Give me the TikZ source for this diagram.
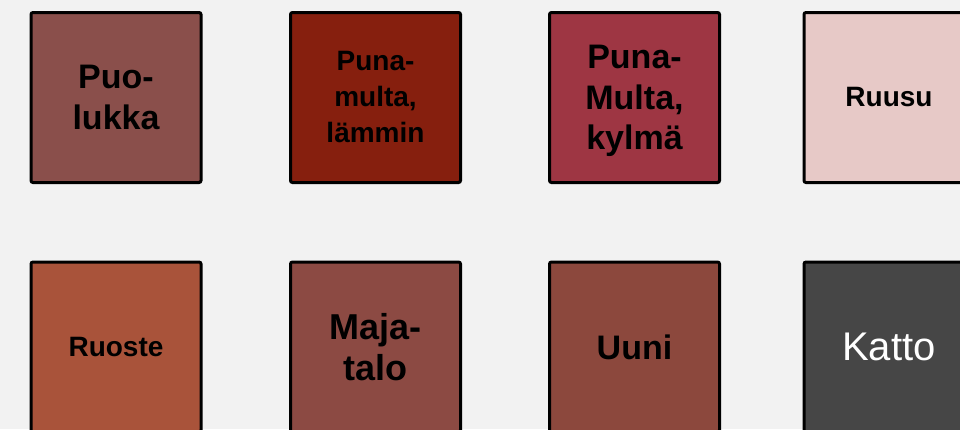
\documentclass[tikz,border=0pt]{standalone}
\usepackage{fontspec}
\setmainfont{Liberation Sans}
\usepackage{xcolor}

\definecolor{bgcol}{HTML}{F2F2F2}
\definecolor{puolukka}{HTML}{8A4F4B}
\definecolor{punalammin}{HTML}{861F0E}
\definecolor{punakylma}{HTML}{9E3643}
\definecolor{ruusu}{HTML}{E7C9C7}
\definecolor{ruoste}{HTML}{A9533A}
\definecolor{majatalo}{HTML}{8C4A43}
\definecolor{uuni}{HTML}{8C483D}
\definecolor{katto}{HTML}{464646}

\tikzset{
  swatch/.style={draw=black, line width=2.25pt, rounded corners=1.5pt,
    minimum size=127.5pt, inner sep=0pt, align=center},
  small/.style={font=\bfseries\fontsize{21}{27}\selectfont},
  big/.style={font=\bfseries\fontsize{25.5}{30.5}\selectfont},
  huge/.style={font=\bfseries\fontsize{27}{31}\selectfont},
}

\begin{document}
\begin{tikzpicture}[x=0.75pt, y=-0.75pt]

\fill[bgcol] (0,0) rectangle (960,429);
\useasboundingbox (0,0) rectangle (960,429);

\node[swatch, big, fill=puolukka] (puo) at (116,97.5) {Puo-\\lukka};
\node[swatch, small, fill=punalammin] (pml) at (375.5,97.5) {Puna-\\multa,\\lämmin};
\node[swatch, big, fill=punakylma, text depth=0pt] (pmk) at (634.5,97.5) {Puna-\\Multa,\\kylmä};
\node[swatch, small, fill=ruusu] (ruu) at (889,97.5) {Ruusu};

\node[swatch, small, fill=ruoste] (ruo) at (116,347) {Ruoste};
\node[swatch, huge, fill=majatalo] (maj) at (375.5,347) {Maja-\\talo};
\node[swatch, big, fill=uuni] (uun) at (634.5,347) {Uuni};
\node[swatch, fill=katto, text=white, font=\fontsize{30}{34}\selectfont] (kat) at (889,347) {Katto};

\end{tikzpicture}
\end{document}
